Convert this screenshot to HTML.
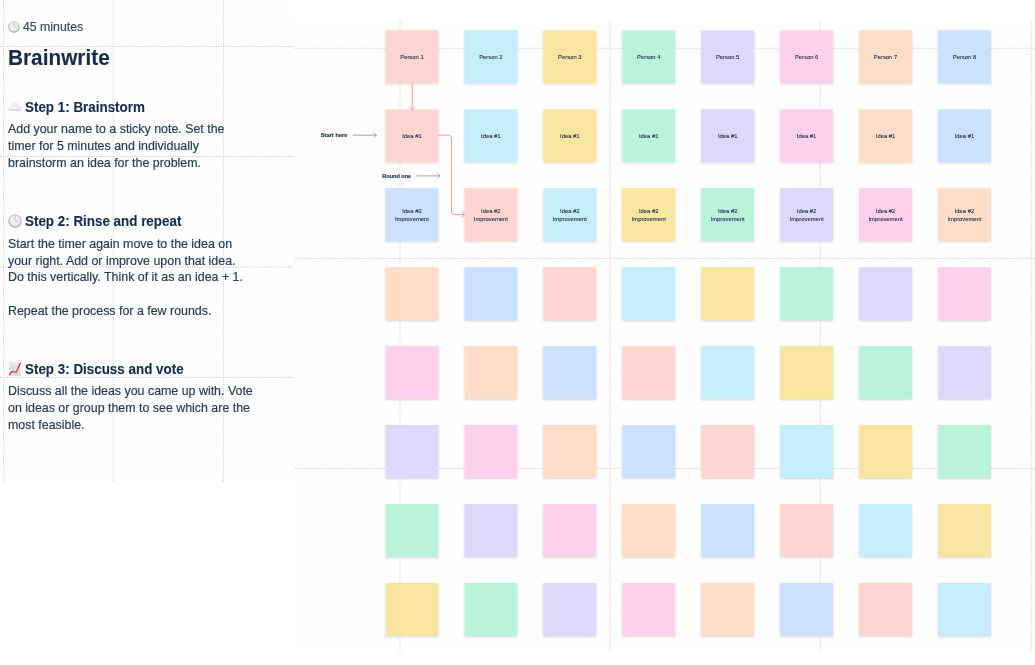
<!DOCTYPE html>
<html><head><meta charset="utf-8">
<title>Brainwrite</title>
<style>
html,body{margin:0;padding:0;background:#fff;}
body{width:1035px;height:665px;position:relative;overflow:hidden;font-family:"Liberation Sans",sans-serif;}
#left{position:absolute;left:0;top:0;width:294px;height:482px;background:#fefefe;overflow:hidden;}
#right{position:absolute;left:295px;top:20px;width:740px;height:632px;background:#fefefe;overflow:hidden;}
.s{position:absolute;width:52.8px;height:52.8px;display:flex;align-items:center;justify-content:center;text-align:center;font-size:5.85px;line-height:7.9px;color:#25324f;-webkit-text-stroke:0.1px #25324f;}
.t{position:absolute;white-space:nowrap;color:#2c3b57;font-size:13px;line-height:16.85px;transform:scaleX(0.954);transform-origin:0 0;-webkit-text-stroke:0.2px #2c3b57;}
.h{position:absolute;white-space:nowrap;color:#172b4d;font-weight:bold;font-size:14px;line-height:17px;transform:scaleX(0.918);transform-origin:0 0;-webkit-text-stroke:0.12px #172b4d;}
.lb{position:absolute;white-space:nowrap;color:#1d2c4c;font-weight:bold;font-size:5.4px;line-height:7px;-webkit-text-stroke:0.15px #1d2c4c;}
svg{position:absolute;overflow:visible;}
#lt{position:absolute;left:0;top:0;width:294px;height:482px;filter:blur(0.4px);}
#rt{position:absolute;left:0;top:0;width:1035px;height:665px;filter:blur(0.35px);}
.grid path{fill:none;stroke-width:1;stroke-dasharray:1.15 1.25;}
</style></head><body>
<div id="left"></div>
<div id="right"></div>
<div id="lt">
<svg class="grid" style="left:0;top:0" width="294" height="482" viewBox="0 0 294 482">
<path d="M3.5 0 V482" stroke="#c3c5d0" opacity="0.75"/>
<path d="M113.2 0 V482" stroke="#c3c5d0" opacity="0.75"/>
<path d="M223.5 0 V482" stroke="#c3c5d0" opacity="0.75"/>
<path d="M0 46.4 H293.5" stroke="#c3c5d0"/>
<path d="M0 156.6 H293.5" stroke="#c3c5d0"/>
<path d="M0 267.0 H293.5" stroke="#c3c5d0"/>
<path d="M0 377.5 H293.5" stroke="#c3c5d0"/>
</svg>
<svg style="left:7.90px;top:20.80px" width="11.80" height="11.80" viewBox="-7 -7 14 14">
<defs><linearGradient id="c1a" x1="0" y1="0" x2="0" y2="1"><stop offset="0" stop-color="#c3cddc"/><stop offset="1" stop-color="#a6a6a6"/></linearGradient>
<radialGradient id="c1b" cx="0.45" cy="0.4" r="0.6"><stop offset="0" stop-color="#fbfbfb"/><stop offset="1" stop-color="#e4e4e6"/></radialGradient></defs>
<circle cx="0" cy="0" r="6.8" fill="url(#c1a)"/><circle cx="0" cy="0" r="5.55" fill="url(#c1b)"/>
<path d="M0.1 -4.4 V0.2 H2.9" fill="none" stroke="#b4b6bc" stroke-width="0.95" stroke-linecap="round" stroke-linejoin="round"/>
</svg>
<div class="t" style="left:23.1px;top:19.3px;font-size:12.9px;color:#3b4a66;-webkit-text-stroke:0.2px #3b4a66">45 minutes</div>
<div class="h" style="left:8.2px;top:46px;font-size:21.3px;line-height:24px;transform:scaleX(0.977)">Brainwrite</div>
<svg style="left:8.0px;top:102.0px" width="13.9" height="9.1" viewBox="0 0 14 9.2">
<defs><linearGradient id="cl" x1="0" y1="0" x2="0" y2="1"><stop offset="0" stop-color="#eceff4"/><stop offset="0.7" stop-color="#eef1f5"/><stop offset="1" stop-color="#ccd3dd"/></linearGradient></defs>
<path d="M2.6 9 C0.9 9 0 7.9 0 6.7 C0 5.4 1.1 4.5 2.4 4.5 C2.7 4.5 2.9 4.5 3.1 4.6 C3.3 2.2 5 0.2 7.4 0.2 C9.5 0.2 11 1.8 11.2 3.9 C12.8 4 14 5.1 14 6.6 C14 8 12.9 9 11.4 9 Z" fill="url(#cl)"/>
</svg>
<div class="h" style="left:24.6px;top:98.5px;font-size:14.6px">Step 1: Brainstorm</div>
<div class="t" style="left:8px;top:121.4px">Add your name to a sticky note. Set the<br>timer for 5 minutes and individually<br>brainstorm an idea for the problem.</div>
<svg style="left:7.90px;top:214.00px" width="14.00" height="14.00" viewBox="-7 -7 14 14">
<defs><linearGradient id="c2a" x1="0" y1="0" x2="0" y2="1"><stop offset="0" stop-color="#c3cddc"/><stop offset="1" stop-color="#a6a6a6"/></linearGradient>
<radialGradient id="c2b" cx="0.45" cy="0.4" r="0.6"><stop offset="0" stop-color="#fbfbfb"/><stop offset="1" stop-color="#e4e4e6"/></radialGradient></defs>
<circle cx="0" cy="0" r="6.8" fill="url(#c2a)"/><circle cx="0" cy="0" r="5.55" fill="url(#c2b)"/>
<path d="M0.1 -4.4 V0.2 H2.9" fill="none" stroke="#b4b6bc" stroke-width="0.95" stroke-linecap="round" stroke-linejoin="round"/>
</svg>
<div class="h" style="left:24.6px;top:213.0px;font-size:14.6px">Step 2: Rinse and repeat</div>
<div class="t" style="left:8px;top:235.7px">Start the timer again move to the idea on<br>your right. Add or improve upon that idea.<br>Do this vertically. Think of it as an idea + 1.<br><br>Repeat the process for a few rounds.</div>
<svg style="left:9.05px;top:362.05px" width="11.8" height="13.80" viewBox="0 0 11.8 13.8">
<defs><linearGradient id="ch" x1="0" y1="0" x2="0" y2="1"><stop offset="0" stop-color="#e6edf2"/><stop offset="1" stop-color="#d3dae1"/></linearGradient></defs>
<rect x="0" y="0" width="11.8" height="13.8" fill="url(#ch)"/>
<path d="M0.5 12.6 L2.9 9.4 L7.1 10.3 L11.3 1.4" fill="none" stroke="#d2454a" stroke-width="1.35" stroke-linejoin="round" stroke-linecap="round"/>
</svg>
<div class="h" style="left:24.6px;top:361.0px;font-size:14.6px">Step 3: Discuss and vote</div>
<div class="t" style="left:8px;top:383.4px">Discuss all the ideas you came up with. Vote<br>on ideas or group them to see which are the<br>most feasible.</div>
</div>
<div id="rt">
<svg class="grid" style="left:0;top:0" width="1035" height="665" viewBox="0 0 1035 665">
<path d="M400.0 20.3 V652" stroke="#d2d3da"/>
<path d="M609.9 20.3 V652" stroke="#d2d3da"/>
<path d="M820.3 20.3 V652" stroke="#d2d3da"/>
<path d="M1031.2 20.3 V652" stroke="#d2d3da"/>
<path d="M295 48.3 H1035" stroke="#d2d3da"/>
<path d="M295 258.5 H1035" stroke="#d2d3da"/>
<path d="M295 468.5 H1035" stroke="#d2d3da"/>
</svg>
<svg style="left:0;top:0" width="1035" height="665" viewBox="0 0 1035 665"><defs><filter id="ds" x="-5%" y="-5%" width="110%" height="110%"><feDropShadow dx="0" dy="1.0" stdDeviation="0.9" flood-color="#50303a" flood-opacity="0.22"/></filter></defs><g filter="url(#ds)">
<rect x="385.55" y="30.40" width="52.8" height="52.8" fill="#FFD5D2"/>
<rect x="464.48" y="30.40" width="52.8" height="52.8" fill="#C6EDFB"/>
<rect x="543.41" y="30.40" width="52.8" height="52.8" fill="#F8E6A0"/>
<rect x="622.34" y="30.40" width="52.8" height="52.8" fill="#BAF3DB"/>
<rect x="701.27" y="30.40" width="52.8" height="52.8" fill="#DFD8FD"/>
<rect x="780.20" y="30.40" width="52.8" height="52.8" fill="#FDD0EC"/>
<rect x="859.13" y="30.40" width="52.8" height="52.8" fill="#FEDEC8"/>
<rect x="938.06" y="30.40" width="52.8" height="52.8" fill="#CCE0FF"/>
<rect x="385.55" y="109.33" width="52.8" height="52.8" fill="#FFD5D2"/>
<rect x="464.48" y="109.33" width="52.8" height="52.8" fill="#C6EDFB"/>
<rect x="543.41" y="109.33" width="52.8" height="52.8" fill="#F8E6A0"/>
<rect x="622.34" y="109.33" width="52.8" height="52.8" fill="#BAF3DB"/>
<rect x="701.27" y="109.33" width="52.8" height="52.8" fill="#DFD8FD"/>
<rect x="780.20" y="109.33" width="52.8" height="52.8" fill="#FDD0EC"/>
<rect x="859.13" y="109.33" width="52.8" height="52.8" fill="#FEDEC8"/>
<rect x="938.06" y="109.33" width="52.8" height="52.8" fill="#CCE0FF"/>
<rect x="385.55" y="188.26" width="52.8" height="52.8" fill="#CCE0FF"/>
<rect x="464.48" y="188.26" width="52.8" height="52.8" fill="#FFD5D2"/>
<rect x="543.41" y="188.26" width="52.8" height="52.8" fill="#C6EDFB"/>
<rect x="622.34" y="188.26" width="52.8" height="52.8" fill="#F8E6A0"/>
<rect x="701.27" y="188.26" width="52.8" height="52.8" fill="#BAF3DB"/>
<rect x="780.20" y="188.26" width="52.8" height="52.8" fill="#DFD8FD"/>
<rect x="859.13" y="188.26" width="52.8" height="52.8" fill="#FDD0EC"/>
<rect x="938.06" y="188.26" width="52.8" height="52.8" fill="#FEDEC8"/>
<rect x="385.55" y="267.19" width="52.8" height="52.8" fill="#FEDEC8"/>
<rect x="464.48" y="267.19" width="52.8" height="52.8" fill="#CCE0FF"/>
<rect x="543.41" y="267.19" width="52.8" height="52.8" fill="#FFD5D2"/>
<rect x="622.34" y="267.19" width="52.8" height="52.8" fill="#C6EDFB"/>
<rect x="701.27" y="267.19" width="52.8" height="52.8" fill="#F8E6A0"/>
<rect x="780.20" y="267.19" width="52.8" height="52.8" fill="#BAF3DB"/>
<rect x="859.13" y="267.19" width="52.8" height="52.8" fill="#DFD8FD"/>
<rect x="938.06" y="267.19" width="52.8" height="52.8" fill="#FDD0EC"/>
<rect x="385.55" y="346.12" width="52.8" height="52.8" fill="#FDD0EC"/>
<rect x="464.48" y="346.12" width="52.8" height="52.8" fill="#FEDEC8"/>
<rect x="543.41" y="346.12" width="52.8" height="52.8" fill="#CCE0FF"/>
<rect x="622.34" y="346.12" width="52.8" height="52.8" fill="#FFD5D2"/>
<rect x="701.27" y="346.12" width="52.8" height="52.8" fill="#C6EDFB"/>
<rect x="780.20" y="346.12" width="52.8" height="52.8" fill="#F8E6A0"/>
<rect x="859.13" y="346.12" width="52.8" height="52.8" fill="#BAF3DB"/>
<rect x="938.06" y="346.12" width="52.8" height="52.8" fill="#DFD8FD"/>
<rect x="385.55" y="425.05" width="52.8" height="52.8" fill="#DFD8FD"/>
<rect x="464.48" y="425.05" width="52.8" height="52.8" fill="#FDD0EC"/>
<rect x="543.41" y="425.05" width="52.8" height="52.8" fill="#FEDEC8"/>
<rect x="622.34" y="425.05" width="52.8" height="52.8" fill="#CCE0FF"/>
<rect x="701.27" y="425.05" width="52.8" height="52.8" fill="#FFD5D2"/>
<rect x="780.20" y="425.05" width="52.8" height="52.8" fill="#C6EDFB"/>
<rect x="859.13" y="425.05" width="52.8" height="52.8" fill="#F8E6A0"/>
<rect x="938.06" y="425.05" width="52.8" height="52.8" fill="#BAF3DB"/>
<rect x="385.55" y="503.98" width="52.8" height="52.8" fill="#BAF3DB"/>
<rect x="464.48" y="503.98" width="52.8" height="52.8" fill="#DFD8FD"/>
<rect x="543.41" y="503.98" width="52.8" height="52.8" fill="#FDD0EC"/>
<rect x="622.34" y="503.98" width="52.8" height="52.8" fill="#FEDEC8"/>
<rect x="701.27" y="503.98" width="52.8" height="52.8" fill="#CCE0FF"/>
<rect x="780.20" y="503.98" width="52.8" height="52.8" fill="#FFD5D2"/>
<rect x="859.13" y="503.98" width="52.8" height="52.8" fill="#C6EDFB"/>
<rect x="938.06" y="503.98" width="52.8" height="52.8" fill="#F8E6A0"/>
<rect x="385.55" y="582.91" width="52.8" height="52.8" fill="#F8E6A0"/>
<rect x="464.48" y="582.91" width="52.8" height="52.8" fill="#BAF3DB"/>
<rect x="543.41" y="582.91" width="52.8" height="52.8" fill="#DFD8FD"/>
<rect x="622.34" y="582.91" width="52.8" height="52.8" fill="#FDD0EC"/>
<rect x="701.27" y="582.91" width="52.8" height="52.8" fill="#FEDEC8"/>
<rect x="780.20" y="582.91" width="52.8" height="52.8" fill="#CCE0FF"/>
<rect x="859.13" y="582.91" width="52.8" height="52.8" fill="#FFD5D2"/>
<rect x="938.06" y="582.91" width="52.8" height="52.8" fill="#C6EDFB"/>
</g></svg>
<div class="s" style="left:385.55px;top:31.30px">Person 1</div>
<div class="s" style="left:464.48px;top:31.30px">Person 2</div>
<div class="s" style="left:543.41px;top:31.30px">Person 3</div>
<div class="s" style="left:622.34px;top:31.30px">Person 4</div>
<div class="s" style="left:701.27px;top:31.30px">Person 5</div>
<div class="s" style="left:780.20px;top:31.30px">Person 6</div>
<div class="s" style="left:859.13px;top:31.30px">Person 7</div>
<div class="s" style="left:938.06px;top:31.30px">Person 8</div>
<div class="s" style="left:385.55px;top:110.23px">Idea #1</div>
<div class="s" style="left:464.48px;top:110.23px">Idea #1</div>
<div class="s" style="left:543.41px;top:110.23px">Idea #1</div>
<div class="s" style="left:622.34px;top:110.23px">Idea #1</div>
<div class="s" style="left:701.27px;top:110.23px">Idea #1</div>
<div class="s" style="left:780.20px;top:110.23px">Idea #1</div>
<div class="s" style="left:859.13px;top:110.23px">Idea #1</div>
<div class="s" style="left:938.06px;top:110.23px">Idea #1</div>
<div class="s" style="left:385.55px;top:189.16px">Idea #2<br>Improvement</div>
<div class="s" style="left:464.48px;top:189.16px">Idea #2<br>Improvement</div>
<div class="s" style="left:543.41px;top:189.16px">Idea #2<br>Improvement</div>
<div class="s" style="left:622.34px;top:189.16px">Idea #2<br>Improvement</div>
<div class="s" style="left:701.27px;top:189.16px">Idea #2<br>Improvement</div>
<div class="s" style="left:780.20px;top:189.16px">Idea #2<br>Improvement</div>
<div class="s" style="left:859.13px;top:189.16px">Idea #2<br>Improvement</div>
<div class="s" style="left:938.06px;top:189.16px">Idea #2<br>Improvement</div>
<div class="lb" style="left:320.7px;top:131.7px;font-size:5.76px">Start here</div>
<div class="lb" style="left:382.3px;top:172.9px;font-size:5.52px">Round one</div>
<svg style="left:0;top:0" width="1035" height="665" viewBox="0 0 1035 665">
<g fill="none" stroke="#5e6c84" stroke-width="0.6" stroke-linecap="round" stroke-linejoin="round">
<path d="M353 135.2 H376.3 M373.9 132.8 L376.3 135.2 L373.9 137.6"/>
<path d="M417 175.9 H439.8 M437.4 173.5 L439.8 175.9 L437.4 178.3"/>
</g>
<g fill="none" stroke="#fd9891" stroke-width="1" stroke-linecap="round" stroke-linejoin="round">
<path d="M412.2 83.2 V109.2 M409.7 107.3 L412.2 109.5 L414.7 107.3"/>
<path d="M438.6 135.2 H448.5 Q451.5 135.2 451.5 138.2 V211.6 Q451.5 214.6 454.5 214.6 H464.3 M462.1 212.1 L464.4 214.6 L462.1 217.1"/>
</g>
</svg>
</div>
</body></html>
